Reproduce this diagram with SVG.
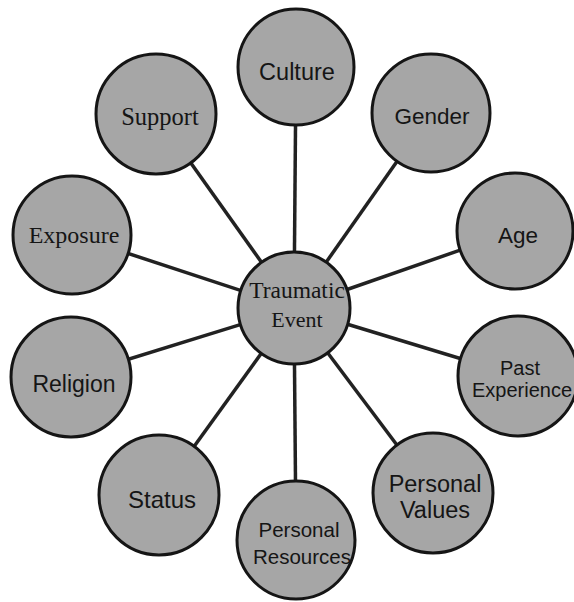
<svg xmlns="http://www.w3.org/2000/svg" width="574" height="602" viewBox="0 0 574 602">
<defs>
<style>
.node circle{fill:#a6a6a6;stroke:#151515;stroke-width:3}
.sans{font-family:"Liberation Sans",Arial,sans-serif;fill:#151515;text-anchor:middle}
.serif{font-family:"Liberation Serif","Times New Roman",serif;fill:#151515;text-anchor:middle}
#connectors line{stroke:#222;stroke-width:3.5}
</style>
</defs>
<rect width="574" height="602" fill="#fff"/>
<g id="connectors">
<line x1="294" y1="308" x2="296" y2="67"/>
<line x1="294" y1="308" x2="431" y2="113"/>
<line x1="294" y1="308" x2="515" y2="231"/>
<line x1="294" y1="308" x2="518" y2="376"/>
<line x1="294" y1="308" x2="433" y2="493"/>
<line x1="294" y1="308" x2="296" y2="540"/>
<line x1="294" y1="308" x2="159" y2="495"/>
<line x1="294" y1="308" x2="71" y2="377"/>
<line x1="294" y1="308" x2="72" y2="235"/>
<line x1="294" y1="308" x2="156" y2="114"/>
</g>
<g id="traumatic-event" class="node"><circle cx="294" cy="308" r="56"/><text class="serif" x="297" y="298" font-size="23.5">Traumatic</text><text class="serif" x="297" y="327" font-size="22">Event</text></g>
<g id="culture" class="node"><circle cx="296" cy="67" r="58"/><text class="sans" x="297" y="80" font-size="23.5">Culture</text></g>
<g id="gender" class="node"><circle cx="431" cy="113" r="59"/><text class="sans" x="432" y="124" font-size="22.5">Gender</text></g>
<g id="age" class="node"><circle cx="515" cy="231" r="58"/><text class="sans" x="518" y="243" font-size="22.5">Age</text></g>
<g id="past-experience" class="node"><circle cx="518" cy="376" r="60"/><text class="sans" x="520" y="375" font-size="20">Past</text><text class="sans" x="522" y="397" font-size="20">Experience</text></g>
<g id="personal-values" class="node"><circle cx="433" cy="493" r="60"/><text class="sans" x="435" y="492" font-size="23.5">Personal</text><text class="sans" x="435" y="518" font-size="23.5">Values</text></g>
<g id="personal-resources" class="node"><circle cx="296" cy="540" r="59"/><text class="sans" x="299" y="537" font-size="20.5">Personal</text><text class="sans" x="302" y="564" font-size="20.5">Resources</text></g>
<g id="status" class="node"><circle cx="159" cy="495" r="60"/><text class="sans" x="162" y="508" font-size="24">Status</text></g>
<g id="religion" class="node"><circle cx="71" cy="377" r="60"/><text class="sans" x="74" y="392" font-size="23">Religion</text></g>
<g id="exposure" class="node"><circle cx="72" cy="235" r="59"/><text class="serif" x="74" y="243" font-size="24">Exposure</text></g>
<g id="support" class="node"><circle cx="156" cy="114" r="60"/><text class="serif" x="160" y="125" font-size="24.5">Support</text></g>
</svg>
